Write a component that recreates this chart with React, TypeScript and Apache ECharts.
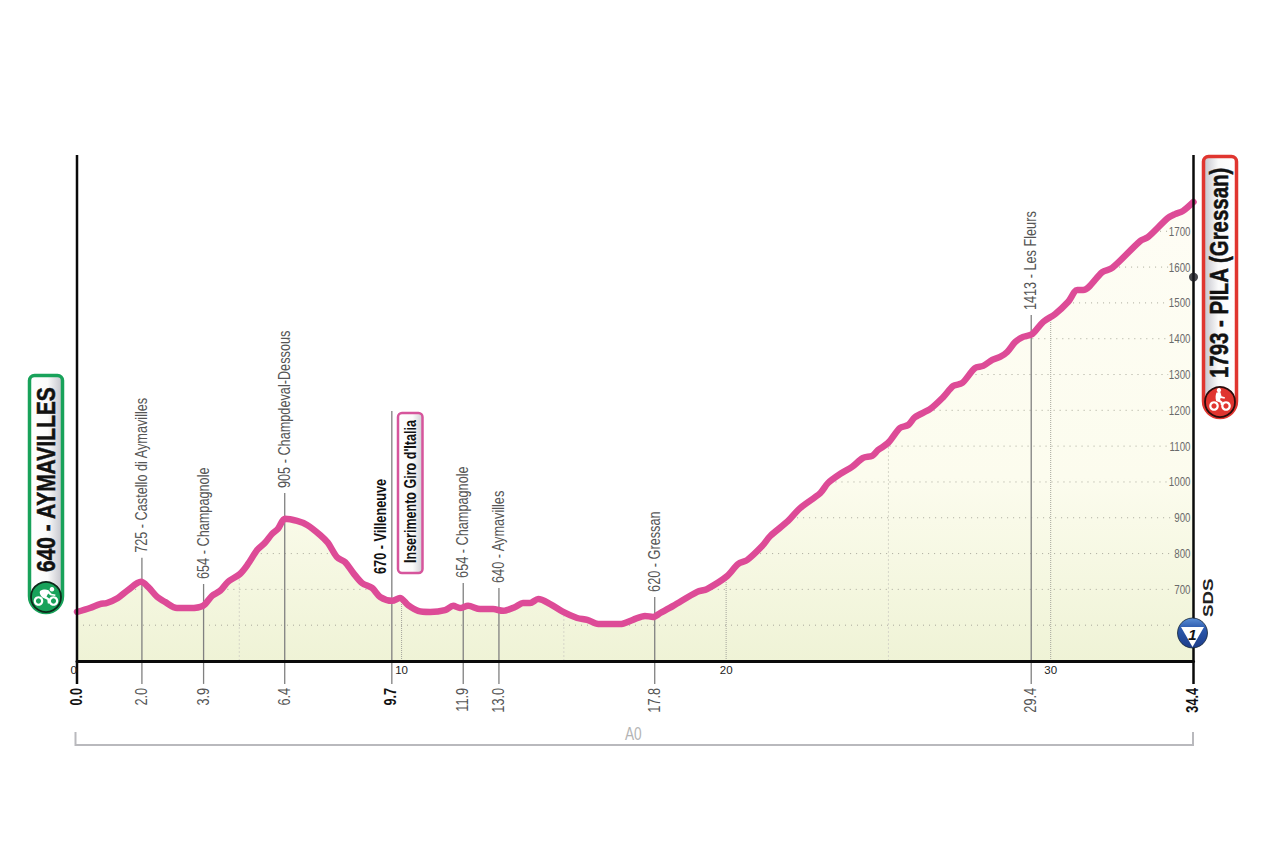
import React, { useEffect, useRef } from "react";
import * as echarts from "echarts";

const FONT = '"Liberation Sans", sans-serif';

const profileKm = [0,0.4,0.71,0.92,1.26,1.57,1.97,2.19,2.47,2.71,3.08,3.48,3.88,4.16,4.41,4.65,5.02,5.27,5.55,5.79,6.01,6.19,6.41,6.78,7.09,7.49,7.73,8.01,8.26,8.51,8.78,9.09,9.34,9.71,9.95,10.2,10.51,10.88,11.34,11.59,11.8,12.05,12.42,12.82,13.13,13.5,13.74,13.96,14.21,14.58,14.98,15.41,15.72,16.06,16.73,17.13,17.5,17.75,17.97,18.37,19.11,19.41,20.03,20.37,20.65,21.11,21.36,21.91,22.28,22.9,23.14,23.51,23.88,24.22,24.5,24.68,24.99,25.36,25.61,25.82,26.29,26.69,27,27.27,27.67,27.92,28.2,28.44,28.66,28.91,29.15,29.43,29.77,30.14,30.54,30.82,31,31.59,31.9,32.76,33,33.61,33.83,34.08,34.4];
const profileElev = [637,648,659,662,676,698,721,707,679,665,648,648,654,682,696,721,743,771,810,830,855,869,897,891,880,852,830,790,776,746,718,704,679,668,676,656,640,637,642,654,648,654,645,645,640,651,662,662,673,659,637,620,615,603,603,615,626,623,634,654,693,701,737,771,782,821,849,891,927,969,997,1022,1042,1067,1073,1089,1109,1151,1159,1181,1204,1237,1268,1276,1318,1324,1341,1349,1363,1391,1405,1413,1447,1469,1503,1536,1536,1586,1598,1673,1684,1737,1748,1757,1782];

const gridLevels = [600,700,800,900,1000,1100,1200,1300,1400,1500,1600,1700];
const kmGuidesStrong = [10,20,30];
const kmGuidesLight = [5,15,25];

const waypointKm = [2.0,3.9,6.4,11.9,13.0,17.8,29.4];
const waypointTop = [788,715,969,718,704,679,1466];
const waypointNames = ["725 - Castello di Aymavilles","654 - Champagnole","905 - Champdeval-Dessous","654 - Champagnole","640 - Aymavilles","620 - Gressan","1413 - Les Fleurs"];
const waypointDist = ["2.0","3.9","6.4","11.9","13.0","17.8","29.4"];
const keyKm = [0,9.7,34.4];
const keyDist = ["0.0","9.7","34.4"];
const villeneuveKm = 9.7;
const villeneuveElev = 743;
const villeneuveName = "670 - Villeneuve";

const AXIS_MIN = 500;
const AXIS_MAX = 1913;
const STEM_LOW = 436;
const TOTAL_KM = 34.4;

const elevAt = (km: number) => {
  for (let i = 1; i < profileKm.length; i++) {
    if (km <= profileKm[i]) {
      const t = (km - profileKm[i - 1]) / (profileKm[i] - profileKm[i - 1]);
      return profileElev[i - 1] + t * (profileElev[i] - profileElev[i - 1]);
    }
  }
  return profileElev[profileElev.length - 1];
};

const gridSegments = (level: number) => {
  const end = level >= 1000 ? 33.62 : 33.78;
  const out: any[] = [];
  let on = profileElev[0] >= level;
  if (on) out.push([0, level]);
  for (let i = 1; i < profileKm.length; i++) {
    const a = profileElev[i - 1], b = profileElev[i];
    if ((a < level) !== (b < level)) {
      const x = profileKm[i - 1] + ((level - a) / (b - a)) * (profileKm[i] - profileKm[i - 1]);
      if (b >= level) { out.push([x, level]); on = true; }
      else { out.push([x, level]); out.push([x, null]); on = false; }
    }
  }
  if (on) out.push([end, level]);
  return out;
};

const stem = (km: number, top: number, color: string, width: number, z = 3) => ({
  type: "line", data: [[km, STEM_LOW], [km, top]], showSymbol: false, clip: false, silent: true, z,
  lineStyle: { color, width, cap: "butt" },
});

const guide = (km: number, color: string, type: any) => ({
  type: "line", data: [[km, AXIS_MIN], [km, elevAt(km)]], showSymbol: false, silent: true, z: 2,
  lineStyle: { color, width: 1, type },
});

const textSeries = (
  points: number[][], names: string[],
  opt: { font: string; fill: string; align: string; dx?: number; dy?: number; rotate?: boolean; scale: number },
) => ({
  type: "custom", coordinateSystem: "cartesian2d", clip: false, silent: true, z: 9,
  encode: { x: 0, y: 1 }, data: points,
  renderItem: (params: any, api: any) => {
    const p = api.coord([api.value(0), api.value(1)]);
    return {
      type: "text", x: p[0] + (opt.dx || 0), y: p[1] + (opt.dy || 0),
      rotation: opt.rotate === false ? 0 : Math.PI / 2, scaleX: opt.scale, scaleY: 1,
      style: { text: names[params.dataIndex], font: opt.font, fill: opt.fill, textAlign: opt.align, verticalAlign: "middle", textVerticalAlign: "middle" },
    };
  },
});

const txt = (text: string, x: number, y: number, font: string, fill: string, scale = 1, rotated = true, heavy = 0) => ({
  type: "text", x, y, rotation: rotated ? Math.PI / 2 : 0, scaleX: scale, z: 30,
  style: { text, font, fill, textAlign: "left", verticalAlign: "middle", textVerticalAlign: "middle", stroke: heavy ? fill : undefined, lineWidth: heavy },
});

const wheel = (cx: number, cy: number) => ({
  type: "ring", z: 32, shape: { cx, cy, r: 4.8, r0: 2.6 }, style: { fill: "#fff" },
});

const badge = (x: number, y: number, w: number, h: number, stroke: string, lw: number, stops: any[], r: any) => ({
  type: "rect", z: 20,
  shape: { x, y, width: w, height: h, r },
  style: { stroke, lineWidth: lw, fill: new echarts.graphic.LinearGradient(0, 0, 1, 0, stops) },
});

echarts.graphic.registerShape("riderFlat", echarts.graphic.extendPath(
  "M17 0a2.300 2.300 0 1 1-.1 0ZM5 4c3-1.800 6-1.800 8.500-.8l3 3.500 4 .8-.3 1.600-5-.9-2-1.800-1.700 3.200 3 2.200v4.600h-1.700l-.5-3.600-4.800-2.400C5.500 8.500 4 6 5 4Z", {}) as any);
echarts.graphic.registerShape("riderClimb", echarts.graphic.extendPath(
  "M9 0a2.200 2.200 0 1 1-.1 0ZM6.500 4.500l4-.2 1 4 3.500 1-.4 1.500-4-.7-.5 2 2.700 1.800-.4 3.100h-1.600l-.3-2.300-4.300-1.800C5.200 10 5.500 7 6.500 4.500Z", {}) as any);

const App = () => {
  const ref = useRef<HTMLDivElement>(null);
  useEffect(() => {
    const chart = echarts.init(ref.current!, undefined, { renderer: "svg" });
    const profile = profileKm.map((k, i) => [k, profileElev[i]]);
    const GREY = "#555555";
    const NORMAL = `16.5px ${FONT}`;
    const BOLD = `bold 16.5px ${FONT}`;

    const series: any[] = [
      {
        type: "line", data: profile, showSymbol: false, silent: true, z: 1, smooth: 0.3,
        lineStyle: { width: 0 },
        areaStyle: {
          origin: "start", opacity: 1,
          color: new echarts.graphic.LinearGradient(0, 0, 0, 1, [
            { offset: 0, color: "#fefdf5" }, { offset: 0.6, color: "#fcfcee" }, { offset: 1, color: "#eff3d6" },
          ]),
        },
      },
      ...gridLevels.map((l) => ({
        type: "line", data: gridSegments(l), showSymbol: false, silent: true, z: 2,
        lineStyle: { color: "#a9a99b", width: 1, type: [1, 5] },
      })),
      ...kmGuidesStrong.map((k) => guide(k, "#a5a59c", [1, 1])),
      ...kmGuidesLight.map((k) => guide(k, "#d6d6c8", [2, 2])),
      ...waypointKm.map((k, i) => stem(k, waypointTop[i], "#808080", 1.3)),
      stem(villeneuveKm, 1198, "#808080", 1.3),
      stem(0, AXIS_MAX, "#0a0a0a", 2.5, 6),
      stem(TOTAL_KM, AXIS_MAX, "#0a0a0a", 2.5, 6),
      {
        type: "line", data: profile, showSymbol: false, silent: true, z: 5, smooth: 0.3,
        lineStyle: { color: "#dd4b97", width: 6.5, cap: "round", join: "round" },
      },
      textSeries(waypointKm.map((k, i) => [k, waypointTop[i]]), waypointNames, { font: NORMAL, fill: GREY, align: "left", dx: -0.5, dy: -5, scale: 0.77 }),
      textSeries(waypointKm.map((k) => [k, STEM_LOW]), waypointDist, { font: NORMAL, fill: GREY, align: "right", dx: -0.5, dy: 4, scale: 0.77 }),
      textSeries(keyKm.map((k) => [k, STEM_LOW]), keyDist, { font: BOLD, fill: "#111", align: "right", dx: -1, dy: 4, scale: 0.77 }),
      textSeries([[villeneuveKm, villeneuveElev]], [villeneuveName], { font: BOLD, fill: "#111", align: "left", dx: -11.5, scale: 0.77 }),
      textSeries(gridLevels.filter((l) => l >= 700).map((l) => [TOTAL_KM, l]), gridLevels.filter((l) => l >= 700).map(String),
        { font: `13px ${FONT}`, fill: "#6a6a6a", align: "right", dx: -3, rotate: false, scale: 0.75 }),
      {
        type: "scatter", symbol: "circle", symbolSize: 9, silent: true, z: 8, clip: false,
        itemStyle: { color: "#1a1a22" }, data: [[TOTAL_KM, 1572]],
      },
    ];

    chart.setOption({
      animation: false,
      grid: { left: 77, right: 86.5, top: 155, bottom: 191, containLabel: false },
      xAxis: {
        type: "value", min: 0, max: TOTAL_KM, interval: 10, z: 10,
        axisLine: { show: true, onZero: false, lineStyle: { color: "#0a0a0a", width: 3 } },
        axisTick: { show: false }, splitLine: { show: false },
        axisLabel: {
          show: true, margin: 3, fontFamily: FONT, fontSize: 11.5, color: "#222", showMaxLabel: false,
          alignMinLabel: "right",
        },
      },
      yAxis: {
        type: "value", position: "right", min: AXIS_MIN, max: AXIS_MAX, interval: 100, z: 10,
        axisLine: { show: false }, axisTick: { show: false }, splitLine: { show: false },
        axisLabel: { show: false },
      },
      series,
      graphic: [
        { type: "polyline", z: 15, shape: { points: [[75.5, 732], [75.5, 745], [1193, 745], [1193, 732]] }, style: { stroke: "#b9b9bd", lineWidth: 2, fill: "none" } },
        txt("A0", 625, 734, `18px ${FONT}`, "#b4b4b4", 0.76, false),

        badge(29.5, 375.5, 33, 237, "#18a25a", 3.5, [{ offset: 0, color: "#ffffff" }, { offset: 0.55, color: "#fafafa" }, { offset: 1, color: "#c2c2ca" }], [5, 5, 17, 17]),
        txt("640 - AYMAVILLES", 46, 572, `bold 25px ${FONT}`, "#111", 0.84, true, 0.5),
        { type: "circle", z: 31, shape: { cx: 46, cy: 597, r: 15 }, style: { fill: "#18a25a", stroke: "#0c2a1a", lineWidth: 1.8 } },
        { type: "riderFlat", z: 32, x: 35, y: 587, style: { fill: "#fff" } },
        wheel(38.5, 601), wheel(53.5, 601),

        badge(1203.5, 156.5, 33, 261, "#e0352f", 3.5, [{ offset: 0, color: "#c2c2ca" }, { offset: 0.45, color: "#fafafa" }, { offset: 1, color: "#ffffff" }], [5, 5, 17, 17]),
        txt("1793 - PILA (Gressan)", 1219, 378, `bold 25px ${FONT}`, "#111", 0.817, true, 0.5),
        { type: "circle", z: 31, shape: { cx: 1220, cy: 402, r: 15 }, style: { fill: "#e0352f", stroke: "#2a0c0c", lineWidth: 1.8 } },
        { type: "riderClimb", z: 32, x: 1210, y: 388, style: { fill: "#fff" } },
        wheel(1214, 406), wheel(1226, 406),

        badge(398, 413, 24.5, 160, "#d6559c", 2.5, [{ offset: 0, color: "#ffffff" }, { offset: 0.6, color: "#fafafa" }, { offset: 1, color: "#cfcfd4" }], 4),
        txt("Inserimento Giro d'Italia", 410, 563, `bold 16.5px ${FONT}`, "#111", 0.76),

        txt("SDS", 1208, 617, `bold 15px ${FONT}`, "#222", 1.25),
        {
          type: "circle", z: 31, shape: { cx: 1192.5, cy: 633, r: 15 },
          style: {
            stroke: "#123", lineWidth: 0.8,
            fill: new echarts.graphic.LinearGradient(0, 0, 0, 1, [
              { offset: 0, color: "#5b8fd6" }, { offset: 0.35, color: "#2c59ac" }, { offset: 1, color: "#1c3c8a" },
            ]),
          },
        },
        { type: "polygon", z: 32, shape: { points: [[1181, 627], [1204, 627], [1192.5, 647]] }, style: { fill: "#fff" } },
        { type: "text", z: 33, x: 1192.5, y: 634, style: { text: "1", font: `italic bold 15px ${FONT}`, fill: "#111", textAlign: "center", verticalAlign: "middle", textVerticalAlign: "middle" } },
      ],
    });
    return () => chart.dispose();
  }, []);
  return <div ref={ref} style={{ position: "fixed", left: 0, top: 0, width: 1280, height: 852, background: "#fff" }} />;
};

export default App;
